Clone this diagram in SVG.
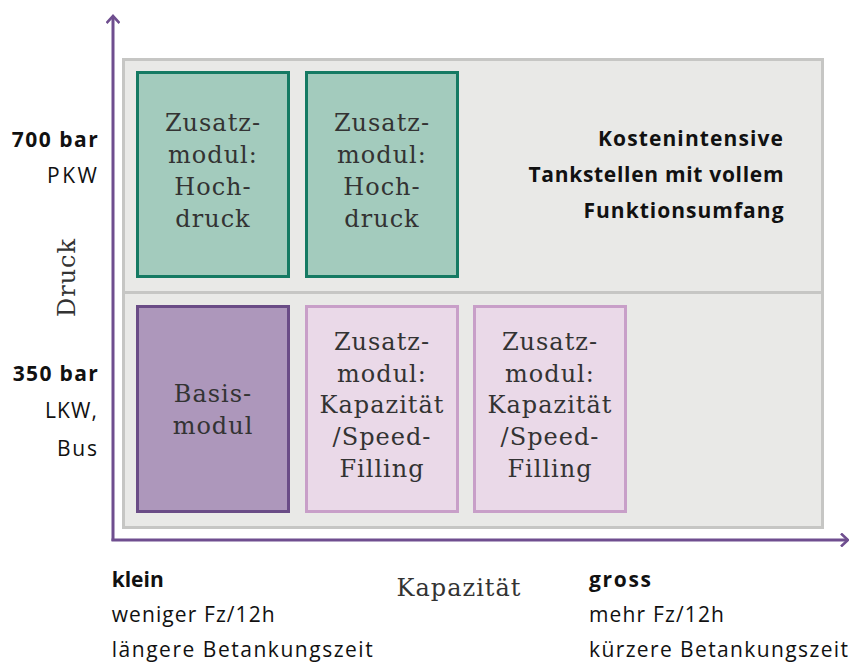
<svg xmlns="http://www.w3.org/2000/svg" width="849" height="662" viewBox="0 0 849 662">
<defs>
<marker id="arr" viewBox="0 0 12 14" refX="10" refY="7" markerWidth="12" markerHeight="14" markerUnits="userSpaceOnUse" orient="auto">
<polyline points="3,0.5 10,7 3,13.5" fill="none" stroke="#6f4e8f" stroke-width="2.6"/>
</marker>
<style>
.panel{fill:#e9e9e7;stroke:#c6c6c4;stroke-width:3}
.div{stroke:#c6c6c4;stroke-width:3}
.teal{fill:#a3cbbd;stroke:#157a63;stroke-width:3}
.basis{fill:#ad97bb;stroke:#6a4c86;stroke-width:3}
.pink{fill:#ead9e8;stroke:#c89fc8;stroke-width:3}
.axis{stroke:#6f4e8f;stroke-width:3;fill:none}
.ser{font-family:"DejaVu Serif","Liberation Serif",serif;font-size:24px;letter-spacing:1px;fill:#333;text-anchor:middle}
.sans{font-family:"Open Sans","Noto Sans","Liberation Sans",sans-serif;font-size:21px;fill:#111}
.b{font-weight:bold}
</style>
</defs>
<g id="panel">
<rect class="panel" x="123.5" y="59.5" width="699" height="468"/>
<line class="div" x1="123" y1="292.5" x2="823" y2="292.5"/>
</g>
<g id="connectors">
<line class="axis" x1="113" y1="541" x2="113" y2="16" marker-end="url(#arr)"/>
<line class="axis" x1="111.5" y1="540" x2="848" y2="540" marker-end="url(#arr)"/>
</g>
<g id="hochdruck1">
<rect class="teal" x="137.5" y="72.5" width="151" height="204"/>
<text class="ser"><tspan x="213" y="131">Zusatz-</tspan><tspan x="213" y="163">modul:</tspan><tspan x="213" y="195">Hoch-</tspan><tspan x="213" y="227">druck</tspan></text>
</g>
<g id="hochdruck2">
<rect class="teal" x="306.5" y="72.5" width="151" height="204"/>
<text class="ser"><tspan x="382" y="131">Zusatz-</tspan><tspan x="382" y="163">modul:</tspan><tspan x="382" y="195">Hoch-</tspan><tspan x="382" y="227">druck</tspan></text>
</g>
<g id="basismodul">
<rect class="basis" x="137.5" y="306.5" width="151" height="205"/>
<text class="ser"><tspan x="213" y="401.5">Basis-</tspan><tspan x="213" y="434">modul</tspan></text>
</g>
<g id="kapazitaet1">
<rect class="pink" x="306.5" y="306.5" width="151" height="205"/>
<text class="ser"><tspan x="382" y="350">Zusatz-</tspan><tspan x="382" y="381.7">modul:</tspan><tspan x="382" y="413.4">Kapazität</tspan><tspan x="382" y="445.1">/Speed-</tspan><tspan x="382" y="476.8">Filling</tspan></text>
</g>
<g id="kapazitaet2">
<rect class="pink" x="474.5" y="306.5" width="151" height="205"/>
<text class="ser"><tspan x="550" y="350">Zusatz-</tspan><tspan x="550" y="381.7">modul:</tspan><tspan x="550" y="413.4">Kapazität</tspan><tspan x="550" y="445.1">/Speed-</tspan><tspan x="550" y="476.8">Filling</tspan></text>
</g>
<g id="vollausbau">
<text class="sans b" x="598" y="145.5" textLength="185" lengthAdjust="spacing">Kostenintensive</text>
<text class="sans b" x="528.5" y="181.5" textLength="255" lengthAdjust="spacing">Tankstellen mit vollem</text>
<text class="sans b" x="583.5" y="217.5" textLength="200" lengthAdjust="spacing">Funktionsumfang</text>
</g>
<g id="y-labels">
<text class="sans b" x="11.7" y="147" textLength="86" lengthAdjust="spacing">700 bar</text>
<text class="sans" x="47" y="183" textLength="50" lengthAdjust="spacing">PKW</text>
<text class="sans b" x="12.7" y="381" textLength="85" lengthAdjust="spacing">350 bar</text>
<text class="sans" x="45" y="418" textLength="52" lengthAdjust="spacing">LKW,</text>
<text class="sans" x="57" y="456" textLength="40" lengthAdjust="spacing">Bus</text>
<text class="ser" transform="translate(75,277.5) rotate(-90)" x="0" y="0">Druck</text>
</g>
<g id="x-labels">
<text class="sans b" x="111.7" y="586.5" textLength="52" lengthAdjust="spacing">klein</text>
<text class="sans" x="111.7" y="622" textLength="163" lengthAdjust="spacing">weniger Fz/12h</text>
<text class="sans" x="111.7" y="657" textLength="261" lengthAdjust="spacing">längere Betankungszeit</text>
<text class="ser" x="459" y="596">Kapazität</text>
<text class="sans b" x="589" y="586.5" textLength="62" lengthAdjust="spacing">gross</text>
<text class="sans" x="589" y="622" textLength="135" lengthAdjust="spacing">mehr Fz/12h</text>
<text class="sans" x="589" y="657" textLength="259" lengthAdjust="spacing">kürzere Betankungszeit</text>
</g>
</svg>
